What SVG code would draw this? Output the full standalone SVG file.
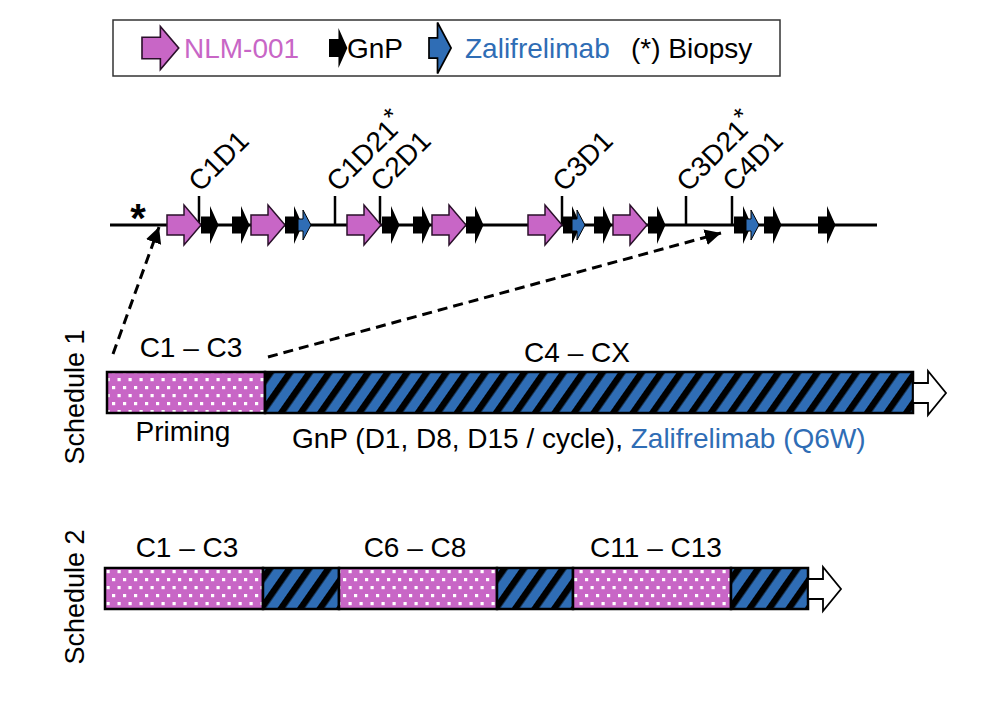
<svg xmlns="http://www.w3.org/2000/svg" xmlns:xlink="http://www.w3.org/1999/xlink" width="1005" height="704" viewBox="0 0 1005 704">
<style>
text{font-family:"Liberation Sans",Arial,sans-serif;font-size:28px;fill:#000}
.pink{fill:#C866C6}
.blue{fill:#2F6DB5}
.rot{font-size:28px}
.sup{font-size:26px}
.bar{stroke:#000;stroke-width:2.5}
.tick{stroke:#000;stroke-width:2.5}
.dash{stroke:#000;stroke-width:3;stroke-dasharray:10 6;fill:none}
</style>
<defs>
<pattern id="dots" patternUnits="userSpaceOnUse" width="11" height="16">
<rect width="11" height="16" fill="#C866C6"/>
<rect x="2" y="2" width="3.2" height="3.2" fill="#fff"/>
<rect x="7.5" y="10" width="3.2" height="3.2" fill="#fff"/>
</pattern>
<pattern id="hatch" patternUnits="userSpaceOnUse" width="16" height="16" patternTransform="rotate(35)">
<rect width="16" height="16" fill="#2F6DB5"/>
<rect width="6.5" height="16" fill="#000"/>
</pattern>
<path id="pa" d="M0,-10 H17 V-20 L34,0 L17,20 V10 H0 Z" fill="#C866C6" stroke="#2a102a" stroke-width="1.5"/>
<path id="ba" d="M0,-8.5 H9 V-19 L17.5,0 L9,19 V8.5 H0 Z" fill="#000"/>
<path id="bl" d="M0,-6 H5 V-15 L13,0 L5,15 V6 H0 Z" fill="#2F6DB5" stroke="#000" stroke-width="1"/>
<path id="outArrow" d="M0,-10 H15 V-22 L33,0 L15,22 V10 H0 Z" fill="#fff" stroke="#000" stroke-width="1.8"/>
<marker id="ah" markerUnits="userSpaceOnUse" markerWidth="20" markerHeight="20" refX="16" refY="8" orient="auto">
<path d="M0,0 L16,8 L0,16 Z" fill="#000"/>
</marker>
</defs>
<rect width="1005" height="704" fill="#fff"/>

<g id="legend">
<rect x="113" y="20" width="667" height="56" fill="#fff" stroke="#333" stroke-width="1.5"/>
<use href="#pa" transform="translate(142,48) scale(1.08)"/>
<text x="184" y="58" class="pink">NLM-001</text>
<use href="#ba" transform="translate(329,48) scale(1.05)"/>
<text x="347" y="58">GnP</text>
<use href="#bl" transform="translate(429,48) scale(1.7)"/>
<text x="465" y="58" class="blue">Zalifrelimab</text>
<text x="631" y="58">(*) Biopsy</text>
</g>

<g id="timeline">
<line x1="110" y1="225" x2="877" y2="225" stroke="#000" stroke-width="3"/>
<text x="138" y="232" text-anchor="middle" font-weight="bold" style="font-size:40px">*</text>
<line class="tick" x1="199" y1="196" x2="199" y2="225"/>
<line class="tick" x1="335" y1="196" x2="335" y2="225"/>
<line class="tick" x1="380" y1="196" x2="380" y2="225"/>
<line class="tick" x1="562" y1="196" x2="562" y2="225"/>
<line class="tick" x1="686" y1="196" x2="686" y2="225"/>
<line class="tick" x1="732" y1="196" x2="732" y2="225"/>
<text class="rot" transform="translate(200,193) rotate(-45)">C1D1</text>
<text class="rot" transform="translate(338,193) rotate(-45)">C1D21<tspan class="sup" dy="-8">*</tspan></text>
<text class="rot" transform="translate(382,193) rotate(-45)">C2D1</text>
<text class="rot" transform="translate(564,193) rotate(-45)">C3D1</text>
<text class="rot" transform="translate(688,193) rotate(-45)">C3D21<tspan class="sup" dy="-8">*</tspan></text>
<text class="rot" transform="translate(734,193) rotate(-45)">C4D1</text>
<use href="#pa" x="167" y="225"/>
<use href="#pa" x="251" y="225"/>
<use href="#pa" x="347" y="225"/>
<use href="#pa" x="432" y="225"/>
<use href="#pa" x="528" y="225"/>
<use href="#pa" x="613" y="225"/>
<use href="#ba" x="201" y="225"/>
<use href="#ba" x="232" y="225"/>
<use href="#ba" x="285" y="225"/>
<use href="#ba" x="382" y="225"/>
<use href="#ba" x="413" y="225"/>
<use href="#ba" x="466" y="225"/>
<use href="#ba" x="563" y="225"/>
<use href="#ba" x="594" y="225"/>
<use href="#ba" x="648" y="225"/>
<use href="#ba" x="734" y="225"/>
<use href="#ba" x="764" y="225"/>
<use href="#ba" x="818" y="225"/>
<use href="#bl" x="298" y="225"/>
<use href="#bl" x="572" y="225"/>
<use href="#bl" x="746" y="225"/>
</g>

<g id="connectors">
<line class="dash" x1="113" y1="354" x2="159" y2="227" marker-end="url(#ah)"/>
<line class="dash" x1="268" y1="357" x2="721" y2="233" marker-end="url(#ah)"/>
</g>

<g id="schedule1">
<text transform="translate(84,397) rotate(-90)" text-anchor="middle" style="font-size:27px">Schedule 1</text>
<text x="191" y="357" text-anchor="middle">C1 – C3</text>
<text x="577" y="362" text-anchor="middle">C4 – CX</text>
<rect class="bar" x="107" y="372" width="158" height="41" fill="url(#dots)"/>
<rect class="bar" x="265" y="372" width="648" height="41" fill="url(#hatch)"/>
<use href="#outArrow" x="913" y="393"/>
<text x="183" y="441" text-anchor="middle">Priming</text>
<text x="292" y="448">GnP (D1, D8, D15 / cycle), <tspan class="blue">Zalifrelimab (Q6W)</tspan></text>
</g>

<g id="schedule2">
<text transform="translate(84,597) rotate(-90)" text-anchor="middle" style="font-size:27px">Schedule 2</text>
<text x="187" y="557" text-anchor="middle">C1 – C3</text>
<text x="415" y="557" text-anchor="middle">C6 – C8</text>
<text x="656" y="557" text-anchor="middle">C11 – C13</text>
<rect class="bar" x="105" y="568" width="158" height="41" fill="url(#dots)"/>
<rect class="bar" x="263" y="568" width="76" height="41" fill="url(#hatch)"/>
<rect class="bar" x="339" y="568" width="158" height="41" fill="url(#dots)"/>
<rect class="bar" x="497" y="568" width="76" height="41" fill="url(#hatch)"/>
<rect class="bar" x="573" y="568" width="158" height="41" fill="url(#dots)"/>
<rect class="bar" x="731" y="568" width="77" height="41" fill="url(#hatch)"/>
<use href="#outArrow" x="808" y="589"/>
</g>
</svg>
